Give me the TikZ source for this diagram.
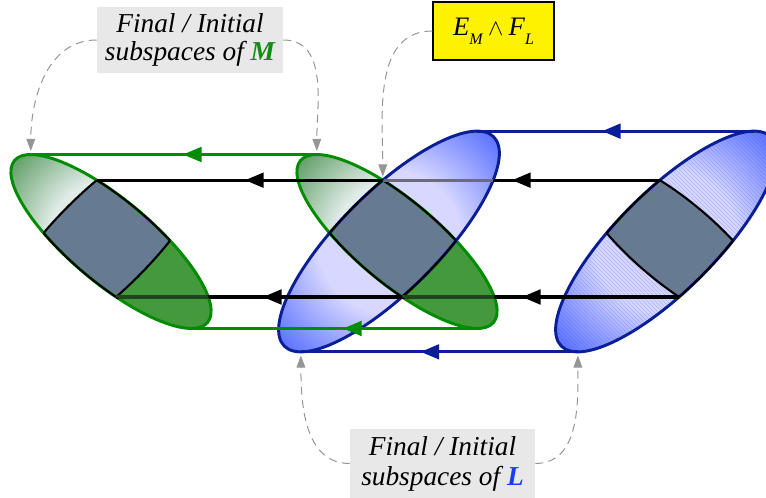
\documentclass[tikz,border=0pt]{standalone}
\usepackage{fontspec}
\setmainfont{Liberation Serif}
\usetikzlibrary{arrows.meta,decorations.markings,patterns}

\definecolor{gline}{RGB}{0,140,0}
\definecolor{gsolid}{RGB}{67,153,60}
\definecolor{gdeep}{RGB}{50,130,55}
\definecolor{gpale}{RGB}{225,236,232}
\definecolor{bline}{RGB}{10,30,150}
\definecolor{bdeep}{RGB}{50,80,255}
\definecolor{bpale}{RGB}{215,215,255}
\definecolor{greytex}{RGB}{102,122,146}
\definecolor{boxgrey}{RGB}{232,232,232}
\definecolor{callgrey}{RGB}{150,150,150}
\definecolor{mgreen}{RGB}{20,140,20}
\definecolor{lblue}{RGB}{25,60,255}

\pgfdeclareradialshading{gfade}{\pgfpoint{0bp}{0bp}}{color(0bp)=(gpale); color(12bp)=(gpale); color(29bp)=(gdeep); color(50bp)=(gdeep)}
\pgfdeclareradialshading{bfade}{\pgfpoint{0bp}{0bp}}{color(0bp)=(bpale); color(12bp)=(bpale); color(29bp)=(bdeep); color(50bp)=(bdeep)}

\begin{document}
\begin{tikzpicture}[x=0.75pt,y=-0.75pt,
  gell/.style={shift={(#1,241.5)},rotate=-40},
  bell/.style={shift={(#1,241.5)},rotate=45},
  lbox/.style={fill=boxgrey, inner sep=0pt, align=center},
  ybox/.style={fill=yellow, draw=black, line width=0.8pt, minimum width=90.75pt, minimum height=43.5pt, inner sep=0pt, font=\fontsize{20}{21}\selectfont\itshape},
  callout/.style={draw=callgrey, line width=0.75pt, dash pattern=on 6pt off 4pt, -{Triangle[length=9pt,width=6.5pt]}},
  outl/.style={line width=2.2pt},
  cutline/.style={draw=black, line width=1.6pt},
  conn/.style={line width=2.3pt},
  tipat/.style={postaction={decorate, decoration={markings, mark=at position #1 with {\arrow{Triangle[length=14pt,width=11pt]}}}}},
]
\useasboundingbox (0,0) rectangle (766,498);

% ---------- named points ----------
\coordinate (gTL) at (30.8,154.5);  \coordinate (gTM) at (316.8,154.5);
\coordinate (gBL) at (191.2,328.5); \coordinate (gBM) at (477.2,328.5);
\coordinate (bTM) at (477.1,131.15); \coordinate (bTR) at (754.1,131.15);
\coordinate (bBM) at (300.9,351.85); \coordinate (bBR) at (577.9,351.85);
\coordinate (kTL) at (96.8,180.2); \coordinate (kTM) at (382.8,180.2); \coordinate (kTR) at (659.8,180.2);
\coordinate (kBL) at (116,297);    \coordinate (kBM) at (402,297);    \coordinate (kBR) at (679,297);
\coordinate (aML) at (30.8,151);  \coordinate (aMR) at (316.8,151);
\coordinate (aE) at (382.8,176.5);
\coordinate (aLL) at (300.9,355.5); \coordinate (aLR) at (577.9,355.5);

% ---------- left green ellipse ----------
\begin{scope}
  \clip[gell=111] (0,0) ellipse [x radius=126,y radius=41.3];
  \shade[shading=gfade] (111,241.5) circle (130);
  \begin{scope}
    \clip[bell=103] (-300,0) -- (300,0) -- (300,300) -- (-300,300) -- cycle;
    \fill[gsolid] (0,100) rectangle (300,400);
  \end{scope}
  \fill[greytex,bell=103] (0,0) ellipse [x radius=148,y radius=49.5];
\end{scope}

% ---------- middle green + blue ----------
\begin{scope}
  \clip[gell=397] (0,0) ellipse [x radius=126,y radius=41.3];
  \shade[shading=gfade] (397,241.5) circle (130);
  \begin{scope}
    \clip[bell=389] (-300,0) -- (300,0) -- (300,300) -- (-300,300) -- cycle;
    \fill[gsolid] (250,100) rectangle (600,400);
  \end{scope}
\end{scope}
\begin{scope}
  \clip[bell=389] (0,0) ellipse [x radius=148,y radius=49.5];
  \shade[shading=bfade] (389,241.5) circle (150);
\end{scope}
\begin{scope}
  \clip[gell=397] (0,0) ellipse [x radius=126,y radius=41.3];
  \fill[greytex,bell=389] (0,0) ellipse [x radius=148,y radius=49.5];
\end{scope}

% ---------- right blue ellipse ----------
\begin{scope}
  \clip[bell=666] (0,0) ellipse [x radius=148,y radius=49.5];
  \shade[shading=bfade] (666,241.5) circle (150);
  \fill[pattern=north west lines, pattern color=bdeep, opacity=.25] (500,100) rectangle (800,400);
  \fill[greytex,gell=674] (0,0) ellipse [x radius=126,y radius=41.3];
\end{scope}

% ---------- outlines ----------
\draw[gline,outl,gell=111] (0,0) ellipse [x radius=126,y radius=41.3];
\draw[gline,outl,gell=397] (0,0) ellipse [x radius=126,y radius=41.3];
\draw[bline,outl,bell=389] (0,0) ellipse [x radius=148,y radius=49.5];
\draw[bline,outl,bell=666] (0,0) ellipse [x radius=148,y radius=49.5];

% ---------- black borders of the grey bands ----------
\begin{scope}
  \clip[gell=111] (0,0) ellipse [x radius=126,y radius=41.3];
  \draw[cutline,bell=103] (0,0) ellipse [x radius=148,y radius=49.5];
\end{scope}
\begin{scope}
  \clip[bell=103] (0,0) ellipse [x radius=148,y radius=49.5];
  \draw[cutline,gell=111] (0,0) ellipse [x radius=126,y radius=41.3];
\end{scope}
\begin{scope}
  \clip[gell=397] (0,0) ellipse [x radius=126,y radius=41.3];
  \draw[cutline,bell=389] (0,0) ellipse [x radius=148,y radius=49.5];
\end{scope}
\begin{scope}
  \clip[bell=389] (0,0) ellipse [x radius=148,y radius=49.5];
  \draw[cutline,gell=397] (0,0) ellipse [x radius=126,y radius=41.3];
\end{scope}
\begin{scope}
  \clip[bell=666] (0,0) ellipse [x radius=148,y radius=49.5];
  \draw[cutline,gell=674] (0,0) ellipse [x radius=126,y radius=41.3];
\end{scope}
\begin{scope}
  \clip[gell=674] (0,0) ellipse [x radius=126,y radius=41.3];
  \draw[cutline,bell=666] (0,0) ellipse [x radius=148,y radius=49.5];
\end{scope}

% ---------- black connectors ----------
\draw[black,conn,tipat=0.2625,tipat=0.7368] (kTR) -- (kTL);
\draw[black,conn,tipat=0.279,tipat=0.739] (kBR) -- (kBL);
% dimmed parts under fills
\begin{scope}
  \clip[bell=389] (0,0) ellipse [x radius=148,y radius=49.5];
  \draw[bpale,opacity=.5,line width=2.5pt] (kTM) -- (kTR);
\end{scope}
\begin{scope}
  \clip[gell=111] (0,0) ellipse [x radius=126,y radius=41.3];
  \draw[gsolid,opacity=.45,line width=2.5pt] (kBL) -- (kBM);
\end{scope}
\begin{scope}
  \clip[gell=397] (0,0) ellipse [x radius=126,y radius=41.3];
  \draw[gsolid,opacity=.45,line width=2.5pt] (kBM) -- (kBR);
\end{scope}

% ---------- green and blue connectors ----------
\draw[gline,conn,tipat=0.468] (gTM) -- (gTL);
\draw[gline,conn,tipat=0.469] (gBM) -- (gBL);
\draw[bline,conn,tipat=0.549] (bTR) -- (bTM);
\draw[bline,conn,tipat=0.568] (bBR) -- (bBM);

% ---------- labels ----------
\node[lbox, minimum width=139.5pt, minimum height=49.5pt, font=\fontsize{20.5}{21}\selectfont\itshape]
  (labM) at (190,40) {Final / Initial\\subspaces of \textcolor{mgreen}{\bfseries M}};
\node[ybox] (labE) at (493.5,31)
  {E\raisebox{-7pt}{\fontsize{12}{12}\selectfont M}\hspace{4pt}{\fontsize{18}{18}\selectfont$\wedge$}\hspace{4pt}F\raisebox{-7pt}{\fontsize{12}{12}\selectfont L}};
\node[lbox, minimum width=138.75pt, minimum height=51.75pt, font=\fontsize{20.5}{22.5}\selectfont\itshape]
  (labL) at (442.5,463.5) {Final / Initial\\subspaces of \textcolor{lblue}{\bfseries L}};

% ---------- callouts ----------
\draw[callout] (labM.west) to[out=180,in=90] (aML);
\draw[callout] (labM.east) to[out=0,in=90] (aMR);
\draw[callout] (labE.west) to[out=180,in=90] (aE);
\draw[callout] (labL.west) to[out=180,in=-90] (aLL);
\draw[callout] (labL.east) to[out=0,in=-90] (aLR);
\end{tikzpicture}
\end{document}
